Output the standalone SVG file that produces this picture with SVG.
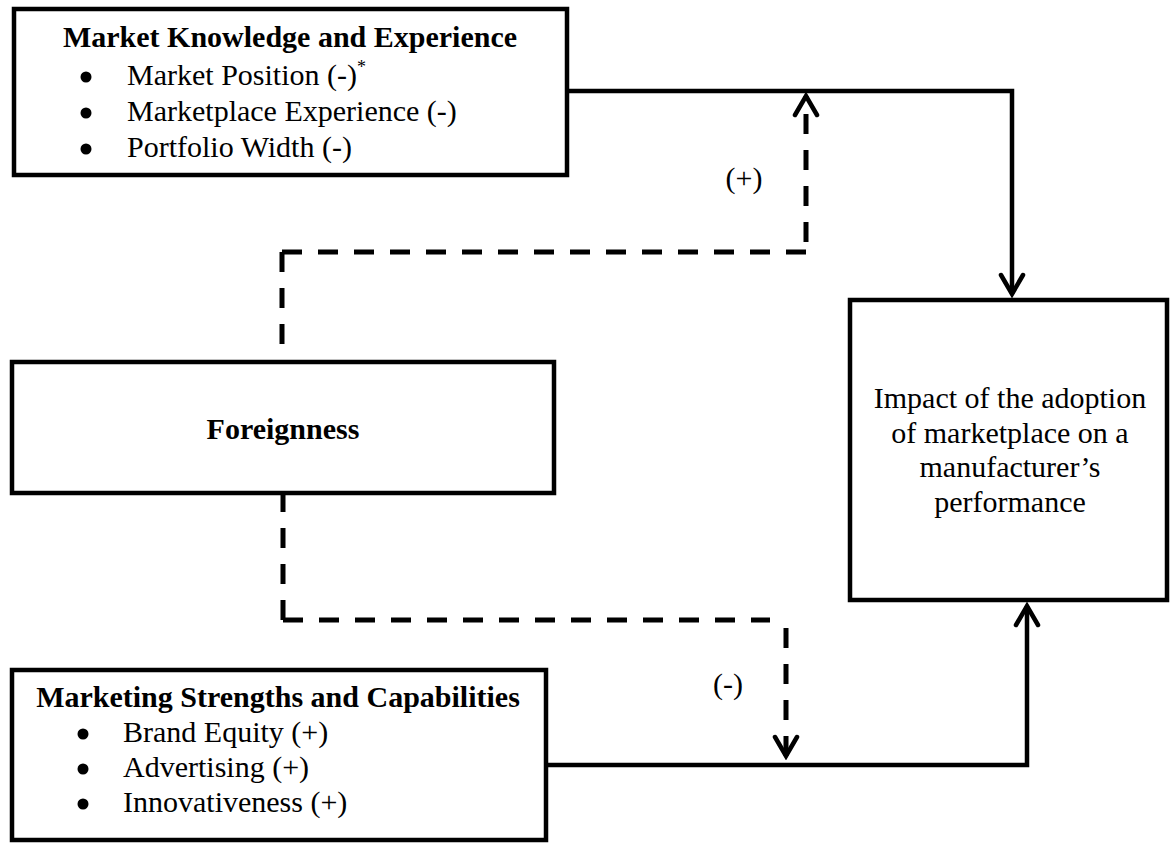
<svg xmlns="http://www.w3.org/2000/svg" width="1170" height="844" viewBox="0 0 1170 844">
  <style>
    .box { fill: #ffffff; stroke: #000000; stroke-width: 4.5; }
    .title { font-family: "Liberation Serif", "Times New Roman", serif; font-size: 30px; font-weight: bold; fill: #000000; }
    .item { font-family: "Liberation Serif", "Times New Roman", serif; font-size: 30px; fill: #000000; }
    .dot { fill: #000000; }
    .sup { font-size: 18px; }
    .solid { fill: none; stroke: #000000; stroke-width: 4.5; }
    .dashed { fill: none; stroke: #000000; stroke-width: 5; stroke-dasharray: 20 16; }
    .label { font-family: "Liberation Serif", "Times New Roman", serif; font-size: 30px; fill: #000000; text-anchor: middle; }
  </style>
  <defs>
    <marker id="chevron" viewBox="-24 -14 28 28" refX="0" refY="0" markerWidth="28" markerHeight="28" markerUnits="userSpaceOnUse" orient="auto">
      <path d="M-19,-11 L0,0 L-19,11" fill="none" stroke="#000000" stroke-width="4.5" stroke-dasharray="none" stroke-linecap="round" stroke-linejoin="miter"/>
    </marker>
  </defs>

  <rect width="1170" height="844" fill="#ffffff"/>

  <!-- connectors -->
  <g id="connectors">
    <!-- direct effects -->
    <path class="solid" d="M567,91 H1012 V294" marker-end="url(#chevron)"/>
    <path class="solid" d="M546,765 H1027 V606" marker-end="url(#chevron)"/>
    <!-- moderating effects of foreignness -->
    <path class="dashed" d="M282,252 V362 M282,252 H806"/>
    <path class="dashed" d="M806,242 V96" marker-end="url(#chevron)"/>
    <path class="dashed" d="M283,620 V493 M283,620 H770"/>
    <path class="dashed" d="M786,628 V756" marker-end="url(#chevron)"/>
    <text class="label" x="744" y="188">(+)</text>
    <text class="label" x="728" y="694">(-)</text>
  </g>

  <!-- market knowledge and experience -->
  <g id="market-knowledge">
    <rect class="box" x="14" y="9" width="553" height="166"/>
    <text class="title" x="290" y="47" text-anchor="middle">Market Knowledge and Experience</text>
    <circle class="dot" cx="86" cy="77" r="5.5"/>
    <circle class="dot" cx="86" cy="113" r="5.5"/>
    <circle class="dot" cx="86" cy="149" r="5.5"/>
    <text class="item" x="127" y="85">Market Position (-)<tspan class="sup" dy="-12">*</tspan></text>
    <text class="item" x="127" y="121">Marketplace Experience (-)</text>
    <text class="item" x="127" y="157">Portfolio Width (-)</text>
  </g>

  <!-- foreignness -->
  <g id="foreignness">
    <rect class="box" x="12" y="362" width="542" height="131"/>
    <text class="title" x="283" y="439" text-anchor="middle">Foreignness</text>
  </g>

  <!-- marketing strengths and capabilities -->
  <g id="marketing-strengths">
    <rect class="box" x="12" y="670" width="534" height="170"/>
    <text class="title" x="278" y="707" text-anchor="middle">Marketing Strengths and Capabilities</text>
    <circle class="dot" cx="83" cy="734" r="5.5"/>
    <circle class="dot" cx="83" cy="769" r="5.5"/>
    <circle class="dot" cx="83" cy="804" r="5.5"/>
    <text class="item" x="123" y="742">Brand Equity (+)</text>
    <text class="item" x="123" y="777">Advertising (+)</text>
    <text class="item" x="123" y="812">Innovativeness (+)</text>
  </g>

  <!-- outcome -->
  <g id="performance-impact">
    <rect class="box" x="850" y="300" width="317" height="300"/>
    <text class="label" x="1010" y="408">Impact of the adoption</text>
    <text class="label" x="1010" y="443">of marketplace on a</text>
    <text class="label" x="1010" y="477">manufacturer’s</text>
    <text class="label" x="1010" y="512">performance</text>
  </g>
</svg>
